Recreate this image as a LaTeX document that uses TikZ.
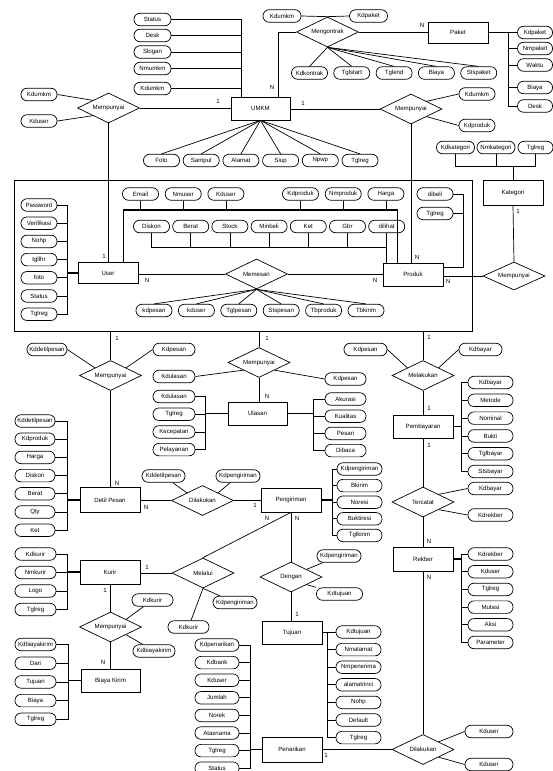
\documentclass[tikz,border=0pt]{standalone}
\usepackage{fontspec}
\setmainfont{Liberation Sans}
\usetikzlibrary{positioning,shapes.geometric}
\tikzset{ent/.style={rectangle,draw,minimum width=60pt,minimum height=24pt,inner sep=1pt},
	 att/.style={rectangle,draw,rounded corners=6pt,minimum width=#1,minimum height=12.5pt,inner sep=0.8pt},
	 att/.default=36pt,
	 rel/.style={diamond,draw,aspect=2,minimum width=62pt,minimum height=30pt,inner sep=0pt},
	 card/.style={inner sep=0pt},
	 bus/.style={line width=1.5pt},
	 node distance = 5pt
	 }

\begin{document}
\begin{tikzpicture}[x=1pt,y=-1pt,line width=0.7pt,font=\fontsize{6.1}{7}\selectfont] % ERD UMKM
	\useasboundingbox (0,0) rectangle (553,771);
	\node[draw,inner sep=0pt,minimum width=458pt,minimum height=151pt] (frame) at (243,255.5) {};
	% UMKM
	\node[ent,minimum width=59pt,minimum height=23pt] (umkm) at (260.5,108.5) {UMKM};
	\node[att=37pt] (status) at (152.5,19.5) {Status};
	\node[att=37pt] (desk) at (152.5,35.5) {Desk};
	\node[att=37pt] (slogan) at (152.5,52) {Slogan};
	\node[att=37pt] (nmumkm) at (152.5,68.5) {Nmumkm};
	\node[att=37pt] (kdumkm) at (152.5,88.5) {Kdumkm};
	\node[att] (foto) at (161.5,160.5) {Foto};
	\node[att] (sampul) [right=3pt of foto] {Sampul};
	\node[att] (alamat) [right=3pt of sampul] {Alamat};
	\node[att] (siup) [right=3pt of alamat] {Siup};
	\node[att] (npwp) [right=3pt of siup] {Npwp};
	\node[att] (tglreg) [right=3pt of npwp] {Tglreg};
	\node[rel] (mpuser) at (108.5,108) {Mempunyai};
	\node[att] (mpkdumkm) at (39,94.5) {Kdumkm};
	\node[att] (mpkduser) at (39,121) {Kduser};
	% Mengontrak / Paket
	\node[rel] (kontrak) at (327.5,32) {Mengontrak};
	\node[att=38pt] (ktkdumkm) at (282,16) {Kdumkm};
	\node[att=38pt] (ktkdpaket) at (368.5,16) {Kdpaket};
	\node[att] (kdkontrak) at (309.5,73) {Kdkontrak};
	\node[att] (tglstart) [right=5.6pt of kdkontrak] {Tglstart};
	\node[att] (tglend) [right=5.6pt of tglstart] {Tglend};
	\node[att] (ktbiaya) [right=5.6pt of tglend] {Biaya};
	\node[att] (stspaket) [right=5.6pt of ktbiaya] {Stspaket};
	\node[ent,minimum height=21pt] (paket) at (458,32.5) {Paket};
	\node[att=35pt] (kdpaket) at (535,32.5) {Kdpaket};
	\node[att=35pt] (nmpaket) at (535,48.5) {Nmpaket};
	\node[att=35pt] (waktu) at (535,65) {Waktu};
	\node[att=35pt] (pkbiaya) at (535,87.5) {Biaya};
	\node[att=35pt] (pkdesk) at (535,106) {Desk};
	% Mempunyai UMKM - Produk, Kategori
	\node[rel] (mpproduk) at (411,109) {Mempunyai};
	\node[att] (mpkdumkm2) at (477,94) {Kdumkm};
	\node[att] (mpkdproduk) at (477,125.5) {Kdproduk};
	\node[ent,minimum height=25pt] (kategori) at (513,192.5) {Kategori};
	\node[att=38pt] (kdkategori) at (455.5,147.5) {Kdkategori};
	\node[att=38pt] (nmkategori) at (496,147.5) {Nmkategori};
	\node[att=35pt] (ktglreg) at (535.5,147.5) {Tglreg};
	\node[rel,minimum height=28pt] (mpkategori) at (514,276) {Mempunyai};
	% User
	\node[ent,minimum height=21pt] (user) at (108,273) {User};
	\node[att] (password) at (39,205) {Password};
	\node[att] (verifikasi) [below=5pt of password] {Verifikasi};
	\node[att] (nohp) [below=5pt of verifikasi] {Nohp};
	\node[att] (tgllhr) [below=5pt of nohp] {tgllhr};
	\node[att] (ufoto) [below=5pt of tgllhr] {foto};
	\node[att] (ustatus) [below=5pt of ufoto] {Status};
	\node[att] (utglreg) [below=5pt of ustatus] {Tglreg};
	% Produk
	\node[ent,minimum height=23pt] (produk) at (413,274.5) {Produk};
	\node[att] (email) at (140.5,194) {Email};
	\node[att] (nmuser) [right=6pt of email] {Nmuser};
	\node[att] (ukduser) [right=6pt of nmuser] {Kduser};
	\node[att] (pkdproduk) at (300.5,194) {Kdproduk};
	\node[att] (nmproduk) [right=6pt of pkdproduk] {Nmproduk};
	\node[att] (harga) [right=6pt of nmproduk] {Harga};
	\node[att] (diskon) at (151.5,226.5) {Diskon};
	\node[att] (berat) [right=2.5pt of diskon] {Berat};
	\node[att] (stock) [right=2.5pt of berat] {Stock};
	\node[att] (minbeli) [right=2.5pt of stock] {Minbeli};
	\node[att] (ket) [right=2.5pt of minbeli] {Ket};
	\node[att] (gbr) [right=2.5pt of ket] {Gbr};
	\node[att] (dilihat) [right=2.5pt of gbr] {dilihat};
	\node[att] (dibeli) at (435,194) {dibeli};
	\node[att] (ptglreg) at (435,213.5) {Tglreg};
	% Memesan
	\node[rel] (memesan) at (256.5,274) {Memesan};
	\node[att] (kdpesan) at (154,310.5) {kdpesan};
	\node[att] (mskduser) [right=5.7pt of kdpesan] {kduser};
	\node[att] (tglpesan) [right=5.7pt of mskduser] {Tglpesan};
	\node[att] (stspesan) [right=5.7pt of tglpesan] {Stspesan};
	\node[att] (tbproduk) [right=5.7pt of stspesan] {Tbproduk};
	\node[att] (tbkirim) [right=5.7pt of tbproduk] {Tbkirim};
	% Detil Pesan
	\node[rel] (mpdetil) at (110.5,375.5) {Mempunyai};
	\node[att=40pt] (mdkddetil) at (47,349.5) {Kddetilpesan};
	\node[att=42pt] (mdkdpesan) at (174,349.5) {Kdpesan};
	\node[ent,minimum height=25pt] (detil) at (110,500) {Detil Pesan};
	\node[att=40pt] (kddetil) at (35,421) {Kddetilpesan};
	\node[att=40pt] (dtkdproduk) [below=5pt of kddetil] {Kdproduk};
	\node[att=40pt] (dtharga) [below=5pt of dtkdproduk] {Harga};
	\node[att=40pt] (dtdiskon) [below=5pt of dtharga] {Diskon};
	\node[att=40pt] (dtberat) [below=5pt of dtdiskon] {Berat};
	\node[att=40pt] (qty) [below=5pt of dtberat] {Qty};
	\node[att=40pt] (dtket) [below=5pt of qty] {Ket};
	% Ulasan
	\node[rel] (mpulasan) at (259,362.5) {Mempunyai};
	\node[att=42pt] (mukdulasan) at (174,376.5) {Kdulasan};
	\node[att=41pt] (mukdpesan) at (345.5,379) {Kdpesan};
	\node[ent,minimum width=59pt,minimum height=23pt] (ulasan) at (257.5,413.5) {Ulasan};
	\node[att=42pt] (kdulasan) at (174,396.5) {Kdulasan};
	\node[att=42pt] (ultglreg) [below=4.5pt of kdulasan] {Tglreg};
	\node[att=42pt] (kecepatan) [below=4.5pt of ultglreg] {Kecepatan};
	\node[att=42pt] (pelayanan) [below=4.5pt of kecepatan] {Pelayanan};
	\node[att=41pt] (akurasi) at (345.5,399) {Akurasi};
	\node[att=41pt] (kualitas) [below=4pt of akurasi] {Kualitas};
	\node[att=41pt] (pesan) [below=4pt of kualitas] {Pesan};
	\node[att=41pt] (dibaca) [below=4pt of pesan] {Dibaca};
	% Pembayaran / Rekber
	\node[rel] (melakukan) at (423,375.5) {Melakukan};
	\node[att=43pt] (mlkdpesan) at (365.5,349.5) {Kdpesan};
	\node[att=43pt] (mlkdbayar) at (480.5,349.5) {Kdbayar};
	\node[ent,minimum height=23pt] (pembayaran) at (423,426.5) {Pembayaran};
	\node[att=45pt] (kdbayar) at (490.5,382.5) {Kdbayar};
	\node[att=45pt] (metode) [below=4.6pt of kdbayar] {Metode};
	\node[att=45pt] (nominal) [below=4.6pt of metode] {Nominal};
	\node[att=45pt] (bukti) [below=4.6pt of nominal] {Bukti};
	\node[att=45pt] (tglbayar) [below=4.6pt of bukti] {Tglbayar};
	\node[att=45pt] (stsbayar) [below=4.6pt of tglbayar] {Stsbayar};
	\node[rel] (tercatat) at (423,502) {Tercatat};
	\node[att=45pt] (tckdbayar) at (490.5,488.5) {Kdbayar};
	\node[att=45pt] (tckdrekber) at (490.5,515) {Kdrekber};
	\node[ent] (rekber) at (423,559) {Rekber};
	\node[att=45pt] (kdrekber) at (490.5,554) {Kdrekber};
	\node[att=45pt] (rbkduser) [below=4.5pt of kdrekber] {Kduser};
	\node[att=45pt] (rbtglreg) [below=4.5pt of rbkduser] {Tglreg};
	\node[att=45pt] (mutasi) [below=4.5pt of rbtglreg] {Mutasi};
	\node[att=45pt] (aksi) [below=4.5pt of mutasi] {Aksi};
	\node[att=45pt] (parameter) [below=4.5pt of aksi] {Parameter};
	% Penarikan
	\node[rel] (dilakukan2) at (423,749.5) {Dilakukan};
	\node[att=48pt] (dlkduser) at (489,731.5) {Kduser};
	\node[att=48pt] (dlkduser2) at (489,764.5) {Kduser};
	\node[ent,minimum height=25pt] (penarikan) at (292,749.5) {Penarikan};
	\node[att=44pt] (kdpenarikan) at (217,645) {Kdpenarikan};
	\node[att=44pt] (kdbank) [below=4.4pt of kdpenarikan] {Kdbank};
	\node[att=44pt] (pnkduser) [below=4.4pt of kdbank] {Kduser};
	\node[att=44pt] (jumlah) [below=4.4pt of pnkduser] {Jumlah};
	\node[att=44pt] (norek) [below=4.4pt of jumlah] {Norek};
	\node[att=44pt] (atasnama) [below=4.4pt of norek] {Atasnama};
	\node[att=44pt] (pntglreg) [below=4.4pt of atasnama] {Tglreg};
	\node[att=44pt] (pnstatus) [below=4.4pt of pntglreg] {Status};
	% Pengiriman
	\node[rel] (dilakukan) at (202.5,500.5) {Dilakukan};
	\node[att=43pt] (dkddetil) at (163.5,476) {Kddetilpesan};
	\node[att=44pt] (dkdpengiriman) at (238,476) {Kdpengiriman};
	\node[ent] (pengiriman) at (291,500) {Pengiriman};
	\node[att=45pt] (kdpengiriman) at (359.5,469) {Kdpengiriman};
	\node[att=45pt] (bkirim) [below=3.4pt of kdpengiriman] {Bkirim};
	\node[att=45pt] (noresi) [below=3.4pt of bkirim] {Noresi};
	\node[att=45pt] (buktiresi) [below=3.4pt of noresi] {Buktiresi};
	\node[att=45pt] (tglkirim) [below=3.4pt of buktiresi] {Tglkirim};
	% Kurir
	\node[ent] (kurir) at (110,572) {Kurir};
	\node[att=41pt] (kdkurir) at (35.5,554) {Kdkurir};
	\node[att=41pt] (nmkurir) [below=5.3pt of kdkurir] {Nmkurir};
	\node[att=41pt] (logo) [below=5.3pt of nmkurir] {Logo};
	\node[att=41pt] (krtglreg) [below=5.3pt of logo] {Tglreg};
	\node[rel] (melalui) at (203,573) {Melalui};
	\node[att=41pt] (mlkdkurir) at (188.5,627) {Kdkurir};
	\node[att=44pt] (mlkdpengiriman) at (235,602.5) {Kdpengiriman};
	% Tujuan
	\node[rel] (dengan) at (291,577) {Dengan};
	\node[att=44pt] (dgkdpengiriman) at (339,556) {Kdpengiriman};
	\node[att=46pt] (dgkdtujuan) at (339.5,594) {Kdtujuan};
	\node[ent,minimum height=23pt] (tujuan) at (292,632.5) {Tujuan};
	\node[att=45pt] (kdtujuan) at (358.5,632) {Kdtujuan};
	\node[att=45pt] (nmalamat) [below=4.4pt of kdtujuan] {Nmalamat};
	\node[att=45pt] (nmpenerima) [below=4.4pt of nmalamat] {Nmpenerima};
	\node[att=45pt] (alamatrinci) [below=4.4pt of nmpenerima] {alamatrinci};
	\node[att=45pt] (tjnohp) [below=4.4pt of alamatrinci] {Nohp};
	\node[att=45pt] (default) [below=4.4pt of tjnohp] {Default};
	\node[att=45pt] (tjtglreg) [below=4.4pt of default] {Tglreg};
	% Biaya Kirim
	\node[rel] (mpkurir) at (110.5,627) {Mempunyai};
	\node[att=41pt] (mkkdkurir) at (152.5,600) {Kdkurir};
	\node[att=42pt] (mkkdbiaya) at (154,651) {Kdbiayakirim};
	\node[ent,minimum width=59pt,minimum height=23pt] (biaya) at (110.5,680.5) {Biaya Kirim};
	\node[att=41pt] (kdbiaya) at (35.5,644.5) {Kdbiayakirim};
	\node[att=41pt] (dari) [below=5.5pt of kdbiaya] {Dari};
	\node[att=41pt] (bktujuan) [below=5.5pt of dari] {Tujuan};
	\node[att=41pt] (bkbiaya) [below=5.5pt of bktujuan] {Biaya};
	\node[att=41pt] (bktglreg) [below=5.5pt of bkbiaya] {Tglreg};
	% cardinalities
	\node[card] (n1) at (272,87) {N};
	\node[card] (n2) at (218,101) {1};
	\node[card] (n3) at (422,25) {N};
	\node[card] (n4) at (303,103) {1};
	\node[card] (n5) at (104,256) {1};
	\node[card] (n6) at (417,257) {N};
	\node[card] (n7) at (518,211) {1};
	\node[card] (n8) at (448,281) {N};
	\node[card] (n9) at (147,280) {N};
	\node[card] (n10) at (375,280) {N};
	\node[card] (n11) at (117,338) {1};
	\node[card] (n12) at (117,483) {N};
	\node[card] (n13) at (267,338) {1};
	\node[card] (n14) at (267,396) {N};
	\node[card] (n15) at (429,337) {1};
	\node[card] (n16) at (429,408) {1};
	\node[card] (n17) at (429,445) {1};
	\node[card] (n18) at (429,541) {N};
	\node[card] (n19) at (429,577) {N};
	\node[card] (n20) at (146,507) {N};
	\node[card] (n21) at (255,505) {1};
	\node[card] (n22) at (267,518) {N};
	\node[card] (n23) at (297,518) {N};
	\node[card] (n24) at (147,567) {1};
	\node[card] (n25) at (105,590) {1};
	\node[card] (n26) at (103,662) {N};
	\node[card] (n27) at (297,614) {1};
	\node[card] (n28) at (326,755) {1};

	% UMKM links
	\coordinate (umkmtop) at ([xshift=11pt]umkm.north west);
	\draw (status.east) -| (umkmtop); \draw (desk.east) -| (umkmtop); \draw (slogan.east) -| (umkmtop);
	\draw (nmumkm.east) -| (umkmtop); \draw (kdumkm.east) -| (umkmtop);
	\draw (umkm.south) to (foto.north); \draw (umkm.south) to (sampul.north); \draw (umkm.south) to (alamat.north);
	\draw (umkm.south) to (siup.north); \draw (umkm.south) to (npwp.north); \draw (umkm.south) to (tglreg.north);
	\draw (mpkdumkm.east) to (mpuser.north west); \draw (mpkduser.east) to (mpuser.south west);
	\draw (mpuser.east) to (mpuser.east -| umkm.west);
	\draw (mpuser.south) to (mpuser.south |- user.north);
	\coordinate (umkmtop2) at ([xshift=-12pt]umkm.north east);
	\draw (kontrak.west) -| (umkmtop2);
	\draw (ktkdumkm.east) to (kontrak.north) to (ktkdpaket.west);
	\draw (kontrak.east) to (kontrak.east -| paket.west);
	\draw (kontrak.south) to (kdkontrak.north); \draw (kontrak.south) to (tglstart.north); \draw (kontrak.south) to (tglend.north);
	\draw (kontrak.south) to (ktbiaya.north); \draw (kontrak.south) to (stspaket.north);
	\coordinate (paketbus) at ([xshift=20pt]paket.east);
	\draw[bus] (paket.east) to (paketbus);
	\draw (kdpaket.west) -| (paketbus); \draw (nmpaket.west) -| (paketbus); \draw (waktu.west) -| (paketbus);
	\draw (pkbiaya.west) -| (paketbus); \draw (pkdesk.west) -| (paketbus);
	\draw (mpproduk.west) to (mpproduk.west -| umkm.east);
	\draw (mpproduk.north east) to (mpkdumkm2.west); \draw (mpproduk.south east) to (mpkdproduk.west);
	\draw (mpproduk.south) to (mpproduk.south |- produk.north);
	\coordinate (katbus) at ([yshift=13pt]kategori.north);
	\draw (kdkategori.south) |- (katbus); \draw (nmkategori.south) |- (katbus); \draw (ktglreg.south) |- (katbus);
	\draw (katbus) to (kategori.north);
	\draw (kategori.south) to (mpkategori.north);
	\draw (mpkategori.west) to (mpkategori.west -| produk.east);
	% User / Produk links
	\coordinate (userbus) at ([xshift=-10pt]user.west);
	\draw[bus] (userbus) to (user.west);
	\draw (password.east) -| (userbus); \draw (verifikasi.east) -| (userbus); \draw (nohp.east) -| (userbus);
	\draw (tgllhr.east) -| (userbus); \draw (ufoto.east) -| (userbus); \draw (ustatus.east) -| (userbus);
	\draw (utglreg.east) -| (userbus);
	\coordinate (upath) at ([xshift=-15pt]user.north east);
	\coordinate (ppath) at ([xshift=15pt]produk.north west);
	\coordinate (row1) at ([yshift=52pt]upath);
	\draw[bus] (upath) to (row1) -| (ppath);
	\draw (email.south) to (email.south |- row1); \draw (nmuser.south) to (nmuser.south |- row1);
	\draw (ukduser.south) to (ukduser.south |- row1); \draw (pkdproduk.south) to (pkdproduk.south |- row1);
	\draw (nmproduk.south) to (nmproduk.south |- row1); \draw (harga.south) to (harga.south |- row1);
	\coordinate (ppath2) at ([xshift=4pt]produk.north west);
	\coordinate (row2) at ([yshift=15pt]ppath2);
	\draw[bus] (diskon.south |- row2) to (row2) to (ppath2);
	\draw (diskon.south) to (diskon.south |- row2); \draw (berat.south) to (berat.south |- row2);
	\draw (stock.south) to (stock.south |- row2); \draw (minbeli.south) to (minbeli.south |- row2);
	\draw (ket.south) to (ket.south |- row2); \draw (gbr.south) to (gbr.south |- row2);
	\draw (dilihat.south) to (dilihat.south |- row2);
	\coordinate (pside) at ([yshift=-5pt]produk.north east);
	\coordinate (pside2) at ([xshift=20pt]pside);
	\draw (dibeli.east) -| (pside2) to (pside); \draw (ptglreg.east) -| (pside2);
	\draw (memesan.west) to (memesan.west -| user.east);
	\draw (memesan.east) to (memesan.east -| produk.west);
	\draw (memesan.south) to (kdpesan.north); \draw (memesan.south) to (mskduser.north); \draw (memesan.south) to (tglpesan.north);
	\draw (memesan.south) to (stspesan.north); \draw (memesan.south) to (tbproduk.north); \draw (memesan.south) to (tbkirim.north);
	% Detil Pesan / Ulasan links
	\draw (mpdetil.north) to (mpdetil.north |- frame.south);
	\draw (mpdetil.south) to (mpdetil.south |- detil.north);
	\draw (mdkddetil.east) to (mpdetil.north west); \draw (mdkdpesan.west) to (mpdetil.north east);
	\coordinate (dtbus) at ([xshift=-12pt]detil.west);
	\draw[bus] (dtbus) to (detil.west);
	\draw (kddetil.east) -| (dtbus); \draw (dtkdproduk.east) -| (dtbus); \draw (dtharga.east) -| (dtbus);
	\draw (dtdiskon.east) -| (dtbus); \draw (dtberat.east) -| (dtbus); \draw (qty.east) -| (dtbus); \draw (dtket.east) -| (dtbus);
	\draw (mpulasan.north) to (mpulasan.north |- frame.south);
	\draw (mpulasan.south) to (mpulasan.south |- ulasan.north);
	\draw (mukdulasan.east) to (mpulasan.south west); \draw (mukdpesan.west) to (mpulasan.south east);
	\coordinate (ulbus) at ([xshift=-22pt]ulasan.west);
	\draw[bus] (ulbus) to (ulasan.west);
	\draw (kdulasan.east) -| (ulbus); \draw (ultglreg.east) -| (ulbus); \draw (kecepatan.east) -| (ulbus); \draw (pelayanan.east) -| (ulbus);
	\coordinate (urbus) at ([xshift=26pt]ulasan.east);
	\draw[bus] (ulasan.east) to (urbus);
	\draw (akurasi.west) -| (urbus); \draw (kualitas.west) -| (urbus); \draw (pesan.west) -| (urbus); \draw (dibaca.west) -| (urbus);
	% Pembayaran / Rekber / Penarikan links
	\draw (melakukan.north) to (melakukan.north |- frame.south);
	\draw (mlkdpesan.east) to (melakukan.north west); \draw (mlkdbayar.west) to (melakukan.north east);
	\draw (melakukan.south) to (pembayaran.north);
	\coordinate (pbbus) at ([xshift=8pt]pembayaran.east);
	\draw[bus] (pembayaran.east) to (pbbus);
	\draw (kdbayar.west) -| (pbbus); \draw (metode.west) -| (pbbus); \draw (nominal.west) -| (pbbus);
	\draw (bukti.west) -| (pbbus); \draw (tglbayar.west) -| (pbbus); \draw (stsbayar.west) -| (pbbus);
	\draw (pembayaran.south) to (tercatat.north);
	\draw (tercatat.north east) to (tckdbayar.west); \draw (tercatat.south east) to (tckdrekber.west);
	\draw (tercatat.south) to (rekber.north);
	\coordinate (rbbus) at ([xshift=8pt]rekber.east);
	\draw[bus] (rekber.east) to (rbbus);
	\draw (kdrekber.west) -| (rbbus); \draw (rbkduser.west) -| (rbbus); \draw (rbtglreg.west) -| (rbbus);
	\draw (mutasi.west) -| (rbbus); \draw (aksi.west) -| (rbbus); \draw (parameter.west) -| (rbbus);
	\draw (rekber.south) to (dilakukan2.north);
	\draw (dilakukan2.west) to (dilakukan2.west -| penarikan.east);
	\draw (dilakukan2.north east) to (dlkduser.west); \draw (dilakukan2.south east) to (dlkduser2.west);
	\coordinate (pnbus) at ([xshift=-11pt]penarikan.west);
	\draw[bus] (pnbus) to (penarikan.west);
	\draw (kdpenarikan.east) -| (pnbus); \draw (kdbank.east) -| (pnbus); \draw (pnkduser.east) -| (pnbus);
	\draw (jumlah.east) -| (pnbus); \draw (norek.east) -| (pnbus); \draw (atasnama.east) -| (pnbus);
	\draw (pntglreg.east) -| (pnbus); \draw (pnstatus.east) -| (pnbus);
	% Pengiriman / Kurir / Tujuan links
	\draw (dilakukan.west) to (dilakukan.west -| detil.east);
	\draw (dilakukan.east) to (dilakukan.east -| pengiriman.west);
	\draw (dkddetil) to (dilakukan.north west); \draw (dkdpengiriman) to (dilakukan.north east);
	\coordinate (pgbus) at ([xshift=11pt]pengiriman.east);
	\draw[bus] (pengiriman.east) to (pgbus);
	\draw (kdpengiriman.west) -| (pgbus); \draw (bkirim.west) -| (pgbus); \draw (noresi.west) -| (pgbus);
	\draw (buktiresi.west) -| (pgbus); \draw (tglkirim.west) -| (pgbus);
	\draw (pengiriman.south) to (melalui.north);
	\draw (pengiriman.south) to (dengan.north);
	\draw (melalui.west) to (melalui.west -| kurir.east);
	\draw (melalui.south) to (mlkdkurir); \draw (melalui.south) to (mlkdpengiriman);
	\coordinate (krbus) at ([xshift=-12pt]kurir.west);
	\draw[bus] (krbus) to (kurir.west);
	\draw (kdkurir.east) -| (krbus); \draw (nmkurir.east) -| (krbus); \draw (logo.east) -| (krbus); \draw (krtglreg.east) -| (krbus);
	\draw (kurir.south) to (kurir.south |- mpkurir.north);
	\draw (mpkurir.south) to (mpkurir.south |- biaya.north);
	\draw (mpkurir.north east) to (mkkdkurir); \draw (mpkurir.south east) to (mkkdbiaya);
	\coordinate (bkbus) at ([xshift=-12.5pt]biaya.west);
	\draw[bus] (bkbus) to (biaya.west);
	\draw (kdbiaya.east) -| (bkbus); \draw (dari.east) -| (bkbus); \draw (bktujuan.east) -| (bkbus);
	\draw (bkbiaya.east) -| (bkbus); \draw (bktglreg.east) -| (bkbus);
	\draw (dengan.south) to (dengan.south |- tujuan.north);
	\draw (dengan.north east) to (dgkdpengiriman); \draw (dengan.south east) to (dgkdtujuan);
	\coordinate (tjbus) at ([xshift=5pt]tujuan.east);
	\draw[bus] (tujuan.east) to (tjbus);
	\draw (kdtujuan.west) -| (tjbus); \draw (nmalamat.west) -| (tjbus); \draw (nmpenerima.west) -| (tjbus);
	\draw (alamatrinci.west) -| (tjbus); \draw (tjnohp.west) -| (tjbus); \draw (default.west) -| (tjbus); \draw (tjtglreg.west) -| (tjbus);
\end{tikzpicture}
\end{document}
